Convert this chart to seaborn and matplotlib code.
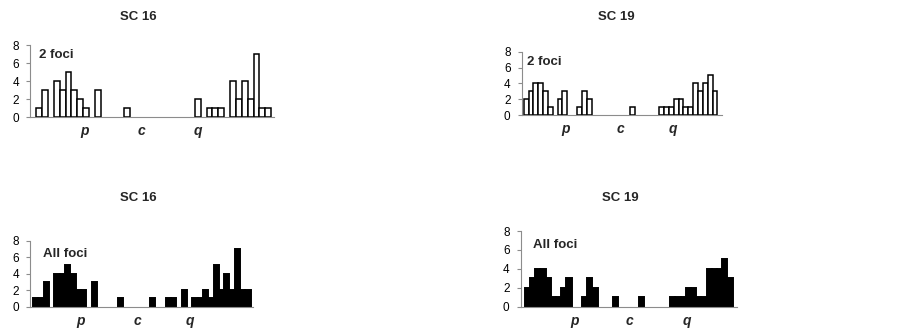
import matplotlib
matplotlib.use("Agg")
import matplotlib.pyplot as plt
import numpy as np
import pandas as pd
import seaborn as sns

# foci counts per chromosome bin (p arm -> centromere -> q arm)
SC16_TWO = [0, 1, 3, 0, 4, 3, 5, 3, 2, 1, 0, 3, 0, 0, 0, 0, 1, 0, 0, 0, 0,
            0, 0, 0, 0, 0, 0, 0, 2, 0, 1, 1, 1, 0, 4, 2, 4, 2, 7, 1, 1]
SC16_ALL = [1, 1, 3, 0, 4, 4, 5, 4, 2, 2, 0, 3, 0, 0, 0, 0, 1, 0, 0, 0, 0,
            0, 1, 0, 0, 1, 1, 0, 2, 0, 1, 1, 2, 1, 5, 2, 4, 2, 7, 2, 2]
SC19_TWO = [2, 3, 4, 4, 3, 1, 0, 2, 3, 0, 0, 1, 3, 2, 0, 0, 0, 0, 0, 0,
            0, 0, 1, 0, 0, 0, 0, 0, 1, 1, 1, 2, 2, 1, 1, 4, 3, 4, 5, 3]
SC19_ALL = [2, 3, 4, 4, 3, 1, 1, 2, 3, 0, 0, 1, 3, 2, 0, 0, 0, 1, 0, 0,
            0, 0, 1, 0, 0, 0, 0, 0, 1, 1, 1, 2, 2, 1, 1, 4, 4, 4, 5, 3]

ARM_LABELS = ["p", "c", "q"]
# bin where each arm label sits
SC16_TWO_ARMS = [8.7, 18.4, 28.0]
SC16_ALL_ARMS = [8.5, 19.2, 29.0]
SC19_TWO_ARMS = [8.2, 19.4, 30.3]
SC19_ALL_ARMS = [9.0, 19.7, 30.7]

Y_TICKS = [0, 2, 4, 6, 8]

W, H = 909, 335
AXIS_GREY = "#8c8c8c"


def setup_style():
    sns.set_theme(style="ticks", context="paper")
    plt.rcParams.update({
        "font.family": ["Liberation Sans", "DejaVu Sans"],
        "axes.edgecolor": AXIS_GREY, "axes.linewidth": 0.8,
        "ytick.color": AXIS_GREY, "ytick.labelcolor": "black",
        "ytick.major.size": 3, "ytick.major.width": 0.8,
        "ytick.labelsize": 8.5, "xtick.major.size": 0,
    })


def px_rect(left, top, right, bottom):
    return [left / W, 1 - bottom / H, (right - left) / W, (bottom - top) / H]


def fig_text(fig, x, y, s, **kw):
    fig.text(x / W, 1 - y / H, s, **kw)


def draw_panel(ax, counts, arms, filled, xlim):
    df = pd.DataFrame({"bin": np.arange(len(counts)), "n": counts})
    sns.barplot(data=df[df.n > 0], x="bin", y="n", order=df.bin.tolist(),
                width=1.0, color="black" if filled else "white", saturation=1,
                edgecolor="black", linewidth=1.4 if filled else 1.1,
                errorbar=None, ax=ax)
    ax.set(xlabel="", ylabel="", xlim=xlim, ylim=(0, 8))
    ax.set_yticks(Y_TICKS)
    ax.tick_params(axis="y", pad=5)
    ax.set_xticks(arms, ARM_LABELS)
    ax.tick_params(axis="x", pad=5)
    for lab in ax.get_xticklabels():
        lab.set_fontweight("bold"); lab.set_fontstyle("italic"); lab.set_fontsize(10)
    sns.despine(ax=ax)


setup_style()
fig = plt.figure(figsize=(W / 100, H / 100), dpi=100)

panels = [
    (px_rect(30, 45, 274, 117.3), SC16_TWO, SC16_TWO_ARMS, False, (-0.55, 40.98)),
    (px_rect(521.7, 51.7, 721.7, 115), SC19_TWO, SC19_TWO_ARMS, False, (-0.93, 40.4)),
    (px_rect(30, 240.7, 253.3, 306.7), SC16_ALL, SC16_ALL_ARMS, True, (-1.1, 41.0)),
    (px_rect(520.7, 231, 736.7, 306.7), SC19_ALL, SC19_ALL_ARMS, True, (-1.29, 40.3)),
]
for rect, counts, arms, filled, xlim in panels:
    ax = fig.add_axes(rect)
    draw_panel(ax, counts, arms, filled, xlim)

title_kw = dict(ha="center", va="baseline", fontsize=9.5, fontweight="bold")
fig_text(fig, 138, 20.5, "SC 16", **title_kw)
fig_text(fig, 616, 20.5, "SC 19", **title_kw)
fig_text(fig, 138, 201, "SC 16", **title_kw)
fig_text(fig, 620, 201, "SC 19", **title_kw)

foci_kw = dict(ha="left", va="baseline", fontsize=9.5, fontweight="bold")
fig_text(fig, 39.3, 58.3, "2 foci", **foci_kw)
fig_text(fig, 527.3, 65, "2 foci", **foci_kw)
fig_text(fig, 42.7, 257.3, "All foci", **foci_kw)
fig_text(fig, 533.3, 248.3, "All foci", **foci_kw)

fig.savefig("out.png", dpi=100, facecolor="white")
